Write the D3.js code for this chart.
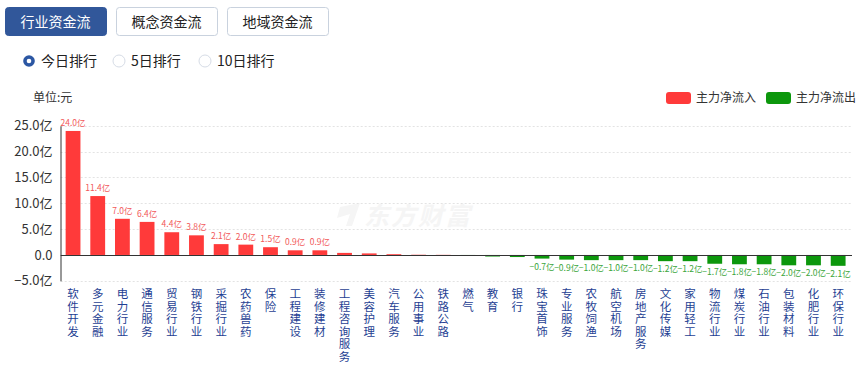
<!DOCTYPE html>
<html><head><meta charset="utf-8">
<script src="https://cdn.jsdelivr.net/npm/d3@7"></script>
<style>
body{margin:0;background:#fff;font-family:"Microsoft YaHei","Noto Sans CJK SC",sans-serif;}
svg{display:block}
</style></head>
<body><svg id="c" width="867" height="365"></svg>
<script>
const categories = ["软件开发","多元金融","电力行业","通信服务","贸易行业","钢铁行业","采掘行业","农药兽药","保险","工程建设","装修建材","工程咨询服务","美容护理","汽车服务","公用事业","铁路公路","燃气","教育","银行","珠宝首饰","专业服务","农牧饲渔","航空机场","房地产服务","文化传媒","家用轻工","物流行业","煤炭行业","石油行业","包装材料","化肥行业","环保行业"];
const values = [24.0,11.4,7.0,6.4,4.4,3.8,2.1,2.0,1.5,0.9,0.9,0.4,0.3,0.15,0.05,0.03,-0.1,-0.3,-0.4,-0.7,-0.9,-1.0,-1.0,-1.0,-1.2,-1.2,-1.7,-1.8,-1.8,-2.0,-2.0,-2.1];
const showLabel = [1,1,1,1,1,1,1,1,1,1,1,0,0,0,0,0,0,0,0,1,1,1,1,1,1,1,1,1,1,1,1,1];
const yTicks = [-5,0,5,10,15,20,25];
const tabs = ["行业资金流","概念资金流","地域资金流"];
const radios = ["今日排行","5日排行","10日排行"];
const legendItems = ["主力净流入","主力净流出"];

const RED="#ff3a3a", GREEN="#0c970c";
const svg = d3.select("#c");
const font = '"Microsoft YaHei","Noto Sans CJK SC",sans-serif';

// tabs
const tabX = d3.scaleBand().domain(tabs).range([5,328]).paddingInner(10/111);
tabs.forEach((t,i)=>{
  const g = svg.append("g");
  g.append("rect").attr("x",tabX(t)+0.5).attr("y",7.5).attr("width",tabX.bandwidth()).attr("height",28).attr("rx",3)
    .attr("fill", i===0?"#31579a":"#fff").attr("stroke", i===0?"#31579a":"#c9d2de");
  g.append("text").attr("x",tabX(t)+tabX.bandwidth()/2).attr("y",22).attr("dy","0.35em").attr("text-anchor","middle")
    .attr("font-size",14).attr("font-family",font).attr("fill", i===0?"#fff":"#222").text(t);
});

// radios
const radioX = [29,119,205];
radios.forEach((r,i)=>{
  if(i===0){
    svg.append("circle").attr("cx",radioX[i]).attr("cy",61).attr("r",5.8).attr("fill","#2c57a3");
    svg.append("circle").attr("cx",radioX[i]).attr("cy",61).attr("r",2.3).attr("fill","#fff");
  } else {
    svg.append("circle").attr("cx",radioX[i]).attr("cy",61).attr("r",6).attr("fill","#fff").attr("stroke","#d6dce6");
  }
  svg.append("text").attr("x",radioX[i]+12).attr("y",61).attr("dy","0.36em").attr("font-size",14)
    .attr("font-family",font).attr("fill","#222").text(r);
});

// unit
svg.append("text").attr("x",33).attr("y",98).attr("dy","0.35em").attr("font-size",12).attr("font-family",font).attr("fill","#333").text("单位:元");

// legend
const legX = [666,766], legC=[RED,GREEN];
legendItems.forEach((l,i)=>{
  svg.append("rect").attr("x",legX[i]).attr("y",92).attr("width",25).attr("height",12).attr("rx",3).attr("fill",legC[i]);
  svg.append("text").attr("x",legX[i]+30).attr("y",98).attr("dy","0.35em").attr("font-size",12).attr("font-family",font).attr("fill","#333").text(l);
});

// scales
const x = d3.scaleBand().domain(categories).range([60.7,850.5]).paddingInner(0.4).paddingOuter(0.2);
const y = d3.scaleLinear().domain([-5,25]).range([280.8,125.8]);

// watermark
const wm = svg.append("g");
wm.append("path").attr("d","M340,207 L360,203 L352,226 L346,226 L350,214 L337,218 Z").attr("fill","#f5f5f5");
wm.append("text").attr("x",364).attr("y",216).attr("dy","0.36em").attr("font-size",25).attr("font-weight","bold")
  .attr("font-style","italic").attr("font-family",font).attr("fill","#f5f5f5").attr("letter-spacing",2).text("东方财富");

// grid
svg.append("g").selectAll("line").data(yTicks.filter(d=>d!==0)).join("line")
  .attr("x1",60.7).attr("x2",852).attr("y1",d=>Math.round(y(d))+0.5).attr("y2",d=>Math.round(y(d))+0.5)
  .attr("stroke","#e3e3e3").attr("stroke-dasharray","2,2");

// y axis
const yAxis = d3.axisLeft(y).tickValues(yTicks).tickSize(0).tickPadding(8)
  .tickFormat(d=> d===0 ? "0.0" : d3.format(".1f")(d)+"亿");
const ga = svg.append("g").attr("transform","translate(60.5,0)").call(yAxis);
ga.select(".domain").attr("stroke","#333");
ga.selectAll("text").attr("font-size",13).attr("font-family",font).attr("fill","#333");

const rows = categories.map((c,i)=>({c, v:values[i], show:showLabel[i]}));

// bars
svg.append("g").selectAll("rect").data(rows).join("rect")
  .attr("x",d=>x(d.c)).attr("width",x.bandwidth())
  .attr("y",d=>y(Math.max(0,d.v))).attr("height",d=>Math.abs(y(d.v)-y(0)))
  .attr("fill",d=>d.v>=0?RED:GREEN);

// zero line
svg.append("line").attr("x1",60.7).attr("x2",852).attr("y1",Math.round(y(0))+0.5).attr("y2",Math.round(y(0))+0.5).attr("stroke","#333");

// value labels
svg.append("g").selectAll("text").data(rows.filter(d=>d.show)).join("text")
  .attr("x",d=>x(d.c)+x.bandwidth()/2)
  .attr("y",d=>d.v>=0? y(d.v)-5 : y(d.v)+8)
  .attr("dy",d=>d.v>=0?"0":"0.35em")
  .attr("text-anchor","middle").attr("font-size",8.5).attr("font-family",font)
  .attr("fill",d=>d.v>=0?"#f25a5a":"#3aa53a")
  .text(d=>d3.format(".1f")(d.v)+"亿");

// x labels (vertical, one char per line)
const chars = [];
categories.forEach(c=>Array.from(c).forEach((ch,j)=>chars.push({c,ch,j})));
svg.append("g").selectAll("text").data(chars).join("text")
  .attr("x",d=>x(d.c)+x.bandwidth()/2).attr("y",d=>294+d.j*12.6)
  .attr("dy","0.35em").attr("text-anchor","middle")
  .attr("font-size",11.5).attr("font-family",font).attr("fill","#1f3f93")
  .text(d=>d.ch);
</script></body></html>
